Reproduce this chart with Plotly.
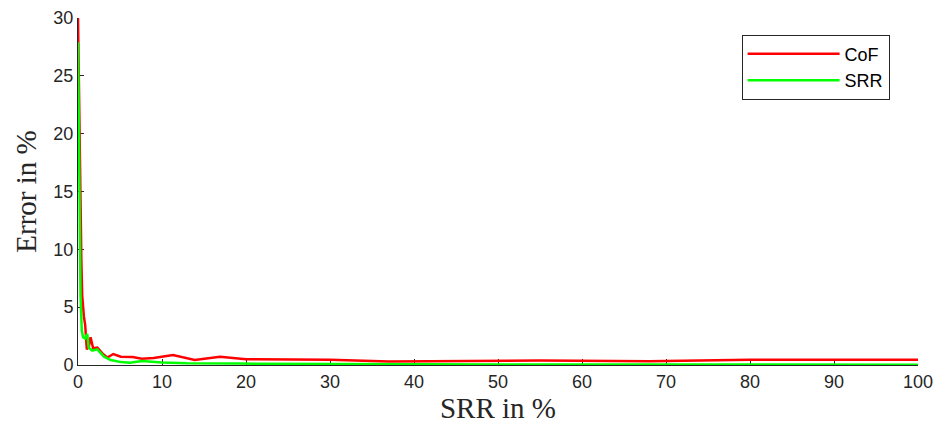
import plotly.graph_objects as go

# Error curves versus SRR (percent)
cof_x = [0, 0.05, 0.15, 0.3, 0.35, 0.4, 0.5, 0.6, 0.7, 0.85, 0.95, 1.05, 1.3, 1.5, 1.8,
         2.3, 2.9, 3.5, 4.2, 5.1, 6.5, 7.6, 9.0, 11.3, 13.9, 16.9, 20, 30, 37, 45, 55,
         68, 80, 100]
cof_y = [30, 27, 22, 16, 12, 9, 6, 4.5, 4.2, 3.5, 2.3, 1.35, 1.6, 2.4, 1.45,
         1.5, 1.0, 0.65, 0.95, 0.72, 0.7, 0.54, 0.6, 0.86, 0.43, 0.72, 0.5, 0.45, 0.3,
         0.35, 0.38, 0.32, 0.45, 0.45]

srr_x = [0, 0.1, 0.2, 0.3, 0.45, 0.6, 0.83, 1.1, 1.27, 1.7, 2.3, 3.1, 3.9, 5.1,
         6.2, 7.6, 10, 13, 19, 30, 50, 100]
srr_y = [27.9, 18, 10, 6, 3, 2.4, 2.3, 2.7, 1.5, 1.25, 1.35, 0.72, 0.43, 0.25,
         0.2, 0.35, 0.22, 0.15, 0.12, 0.08, 0.04, 0.03]

x_ticks = list(range(0, 101, 10))
y_ticks = list(range(0, 31, 5))

axis_color = "#262626"
serif = "Liberation Serif, Times New Roman, serif"
sans = "Liberation Sans, Arial, sans-serif"

fig = go.Figure()
fig.add_trace(go.Scatter(x=cof_x, y=cof_y, mode="lines", name="CoF",
                         line=dict(color="#ff0000", width=2.5)))
fig.add_trace(go.Scatter(x=srr_x, y=srr_y, mode="lines", name="SRR",
                         line=dict(color="#00ff00", width=2.5)))

fig.update_layout(
    width=938, height=428,
    margin=dict(l=78, r=20, t=18, b=63),
    paper_bgcolor="white", plot_bgcolor="white",
    font=dict(family=sans, size=18, color=axis_color),
    showlegend=True,
    legend=dict(
        x=0.79, y=0.952, xanchor="left", yanchor="top",
        bgcolor="white", bordercolor=axis_color, borderwidth=1,
        font=dict(family=sans, size=18, color="black"),
        itemwidth=92, tracegroupgap=0,
    ),
)
fig.update_xaxes(
    range=[0, 100], tickvals=x_ticks, ticks="inside", ticklen=6,
    tickcolor=axis_color, showline=True, linecolor=axis_color, linewidth=1,
    showgrid=False, zeroline=False, mirror=False, layer="below traces",
    automargin=False,
    title=dict(text="SRR in %", font=dict(family=serif, size=29, color=axis_color),
               standoff=6),
)
fig.update_yaxes(
    range=[0, 30], tickvals=y_ticks, ticks="inside", ticklen=6,
    tickcolor=axis_color, showline=True, linecolor=axis_color, linewidth=1,
    showgrid=False, zeroline=False, mirror=False, layer="below traces",
    automargin=False,
    title=dict(text="Error in %", font=dict(family=serif, size=29, color=axis_color),
               standoff=8),
)

fig.write_html("out.html")
